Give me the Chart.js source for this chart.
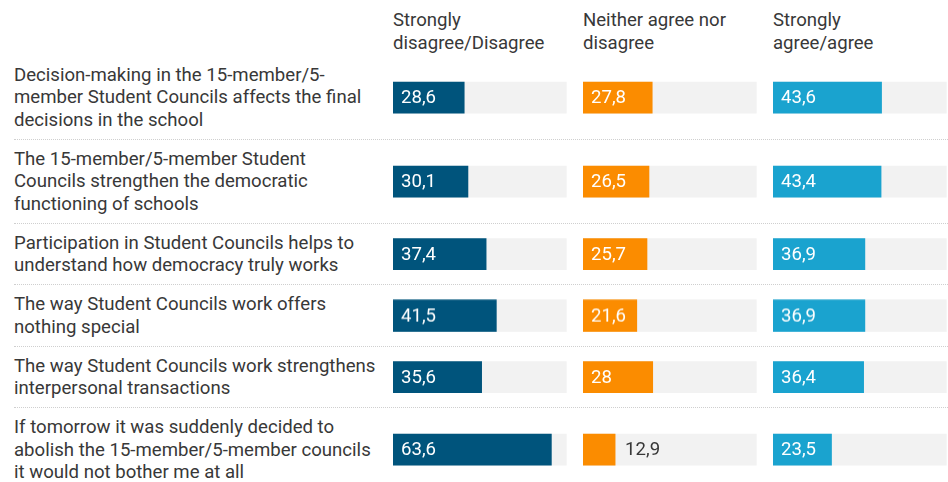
<!DOCTYPE html>
<html>
<head>
<meta charset="utf-8">
<script src="https://cdn.jsdelivr.net/npm/chart.js@4.4.1/dist/chart.umd.min.js"></script>
<style>
    html, body { margin: 0; padding: 0; background: #fff; overflow: hidden; }
    body { width: 948px; height: 482px; font-family: Roboto, sans-serif; font-size: 18.6px; color: #383838; }
    #header { position: relative; height: 55.5px; }
    .colTitle { position: absolute; top: 8.5px; line-height: 23px; white-space: nowrap; }
    .row { position: relative; margin-left: 14px; padding: 8px 0 7px; border-bottom: 1px dotted #cfcfcf; }
    .row:last-child { border-bottom: none; }
    .label { line-height: 22.7px; white-space: nowrap; }
    .chartBox { position: absolute; left: 379px; top: 0; bottom: 0; width: 570px; }
</style>
</head>
<body>
<div id="header"></div>
<div id="rows"></div>
<script>
const categories = [
    ['Decision-making in the 15-member/5-', 'member Student Councils affects the final', 'decisions in the school'],
    ['The 15-member/5-member Student', 'Councils strengthen the democratic', 'functioning of schools'],
    ['Participation in Student Councils helps to', 'understand how democracy truly works'],
    ['The way Student Councils work offers', 'nothing special'],
    ['The way Student Councils work strengthens', 'interpersonal transactions'],
    ['If tomorrow it was suddenly decided to', 'abolish the 15-member/5-member councils', 'it would not bother me at all']
];
const seriesNames = [
    ['Strongly', 'disagree/Disagree'],
    ['Neither agree nor', 'disagree'],
    ['Strongly', 'agree/agree']
];
const disagree = [28.6, 30.1, 37.4, 41.5, 35.6, 63.6];
const neutral = [27.8, 26.5, 25.7, 21.6, 28, 12.9];
const agree = [43.6, 43.4, 36.9, 36.9, 36.4, 23.5];

const series = [disagree, neutral, agree];
const colors = ['#00547c', '#fb8c00', '#1aa3cf'];
const trackColor = '#f2f2f2';
const TRACK = 69.6;     // grey background bar length
const AXIS_MAX = 76.3;  // leaves the gap between columns
const COL_WIDTH = 190;

// column titles
const header = document.getElementById('header');
seriesNames.forEach((lines, c) => {
    const el = document.createElement('div');
    el.className = 'colTitle';
    el.style.left = (393 + c * COL_WIDTH) + 'px';
    el.innerHTML = lines.join('<br>');
    header.appendChild(el);
});

function fmt(v) {
    return String(v).replace('.', ',');
}

const valueLabels = {
    id: 'valueLabels',
    afterDatasetsDraw(chart) {
        const ctx = chart.ctx;
        ctx.save();
        ctx.font = '18.6px Roboto';
        ctx.textBaseline = 'middle';
        chart.data.datasets.forEach((ds, i) => {
            if (!ds.showValue) return;
            const bar = chart.getDatasetMeta(i).data[0];
            const text = fmt(ds.data[0]);
            const w = ctx.measureText(text).width;
            if (bar.x - bar.base >= w + 16) {
                ctx.fillStyle = '#fff';
                ctx.fillText(text, bar.base + 8, bar.y + 1);
            } else {
                ctx.fillStyle = '#383838';
                ctx.fillText(text, bar.x + 10, bar.y + 1);
            }
        });
        ctx.restore();
    }
};

const rowsEl = document.getElementById('rows');
categories.forEach((lines, r) => {
    const row = document.createElement('div');
    row.className = 'row';
    const label = document.createElement('div');
    label.className = 'label';
    label.innerHTML = lines.join('<br>');
    row.appendChild(label);
    const box = document.createElement('div');
    box.className = 'chartBox';
    const canvas = document.createElement('canvas');
    box.appendChild(canvas);
    row.appendChild(box);
    rowsEl.appendChild(row);

    const datasets = [];
    const scales = { y: { type: 'category', display: false } };
    series.forEach((values, c) => {
        datasets.push({ data: [values[r]], xAxisID: 'x' + c, backgroundColor: colors[c], showValue: true, order: 1 });
        datasets.push({ data: [TRACK], xAxisID: 'x' + c, backgroundColor: trackColor, order: 2 });
        scales['x' + c] = {
            type: 'linear', position: 'bottom', stack: 'columns', stackWeight: 1,
            min: 0, max: AXIS_MAX, display: false
        };
    });

    new Chart(canvas, {
        type: 'bar',
        data: { labels: [lines.join(' ')], datasets: datasets },
        options: {
            indexAxis: 'y',
            responsive: true,
            maintainAspectRatio: false,
            animation: false,
            events: [],
            layout: { padding: 0 },
            datasets: { bar: { barThickness: 31, grouped: false, borderWidth: 0 } },
            scales: scales,
            plugins: { legend: { display: false }, tooltip: { enabled: false } }
        },
        plugins: [valueLabels]
    });
});
</script>
</body>
</html>
